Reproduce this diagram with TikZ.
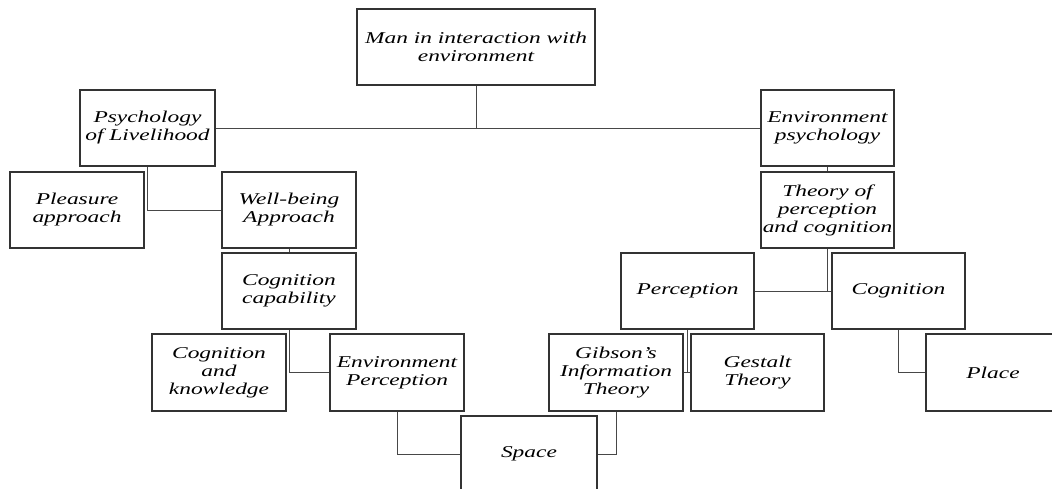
\documentclass[tikz,border=0pt]{standalone}
\usepackage{fontspec}
\setmainfont{Liberation Serif}[FakeStretch=1.42]
\begin{document}
\begin{tikzpicture}[x=1pt,y=-1pt,
  box/.style={draw=black!80,line width=1.2pt,fill=white,rectangle,inner sep=0pt,
    minimum width=134pt,minimum height=76pt,align=center,
    font=\fontsize{16.5}{18}\selectfont\itshape,text=black},
  link/.style={draw=black!72,line width=1pt}]
\useasboundingbox (0,0) rectangle (1052,488);
\clip (0,0) rectangle (1052,488);
\fill[white] (0,0) rectangle (1052,488);
% nodes
\node[box,minimum width=238pt] (top) at (476,47) {Man in interaction with\\environment};
\node[box,minimum width=135pt] (psych) at (147.5,128) {Psychology\\of Livelihood};
\node[box,minimum width=133pt] (envpsy) at (827.5,128) {Environment\\psychology};
\node[box] (pleasure) at (77,210) {Pleasure\\approach};
\node[box] (wellbeing) at (289,210) {Well-being\\Approach};
\node[box,minimum width=133pt] (theory) at (827.5,210) {Theory of\\perception\\and cognition};
\node[box] (cogcap) at (289,291) {Cognition\\capability};
\node[box,minimum width=133pt] (perception) at (687.5,291) {Perception};
\node[box,minimum width=133pt] (cognition) at (898.5,291) {Cognition};
\node[box,minimum height=77pt] (cogknow) at (219,372.5) {Cognition\\and\\knowledge};
\node[box,minimum height=77pt] (envperc) at (397,372.5) {Environment\\Perception};
\node[box,minimum height=77pt] (gibson) at (616,372.5) {Gibson’s\\Information\\Theory};
\node[box,minimum height=77pt,minimum width=133pt] (gestalt) at (757.5,372.5) {Gestalt\\Theory};
\node[box,minimum height=77pt] (place) at (993,372.5) {Place};
\node[box,minimum width=136pt] (space) at (529,454) {Space};
% connectors
\draw[link] (psych.east) -- (envpsy.west);
\draw[link] (top.south) -- (top.south |- psych.east);
\draw[link] (psych.south) |- (wellbeing.west);
\draw[link] (envpsy.south) -- (theory.north);
\draw[link] (wellbeing.south) -- (cogcap.north);
\draw[link] (perception.east) -- (cognition.west);
\draw[link] (theory.south) -- (theory.south |- cognition.west);
\draw[link] (cogcap.south) |- (envperc.west);
\draw[link] (gibson.east) -- (gestalt.west);
\draw[link] (perception.south) -- (perception.south |- gibson.east);
\draw[link] (cognition.south) |- (place.west);
\draw[link] (envperc.south) |- (space.west);
\draw[link] (gibson.south) |- (space.east);
\end{tikzpicture}
\end{document}
